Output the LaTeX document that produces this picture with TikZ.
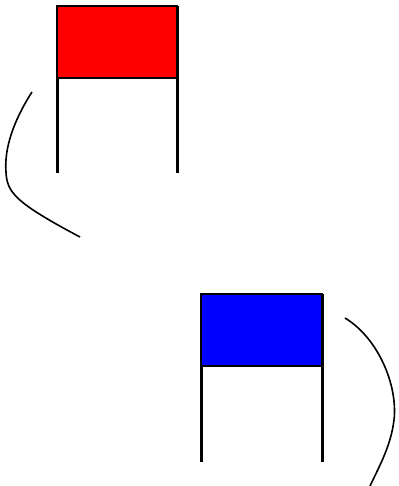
\documentclass[tikz,border=0pt]{standalone}
\usepackage{tikz}
\usetikzlibrary{arrows.meta, positioning, calc}
\definecolor{flagred}{RGB}{255, 0, 0}
\definecolor{flagblue}{RGB}{0, 0, 255}
\tikzset{
  flagbox/.style={draw=black, line width=2.4pt},
  flagleg/.style={draw=black, line width=3pt},
  swing/.style={draw=black, line width=1.6pt}
}

\begin{document}
\begin{tikzpicture}[x=1pt, y=-1pt]
    \useasboundingbox (0,0) rectangle (398,486);
    % upper flag
    \draw[flagleg] (57,6) -- (57,173);
    \draw[flagleg] (177,6) -- (177,173);
    \draw[flagbox, fill=flagred] (57,6) rectangle (177,78);
    \draw[swing] (32,92) .. controls (14,120) and (4,148) .. (6,172) .. controls (7,192) and (14,202) .. (80,237);
    % lower flag
    \draw[flagleg] (201,294) -- (201,462);
    \draw[flagleg] (322,294) -- (322,462);
    \draw[flagbox, fill=flagblue] (201,294) rectangle (322,366);
    \draw[swing] (345,318) .. controls (378,338) and (398,385) .. (394,420) .. controls (391,445) and (380,465) .. (370,486);
\end{tikzpicture}
\end{document}
